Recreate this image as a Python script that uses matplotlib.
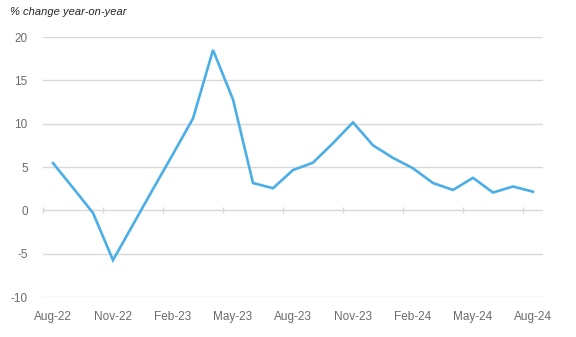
import matplotlib
matplotlib.use("Agg")
import matplotlib.pyplot as plt
import numpy as np

months = ["Aug-22", "Sep-22", "Oct-22", "Nov-22", "Dec-22", "Jan-23", "Feb-23",
          "Mar-23", "Apr-23", "May-23", "Jun-23", "Jul-23", "Aug-23", "Sep-23",
          "Oct-23", "Nov-23", "Dec-23", "Jan-24", "Feb-24", "Mar-24", "Apr-24",
          "May-24", "Jun-24", "Jul-24", "Aug-24"]
values = [5.45, 2.6, -0.3, -5.75, -1.65, 2.45, 6.5,
          10.6, 18.5, 12.8, 3.15, 2.55, 4.65, 5.5,
          7.75, 10.15, 7.5, 6.05, 4.85, 3.15, 2.35,
          3.75, 2.05, 2.75, 2.15]
yticks = [-10, -5, 0, 5, 10, 15, 20]

plt.rcParams['font.family'] = ['Liberation Sans', 'DejaVu Sans']
grey = "#6b6b6b"
gridc = "#d9d9d9"

fig = plt.figure(figsize=(5.76, 3.37), dpi=100)
ax = fig.add_axes([43/576, 1-297/337, 500/576, 260/337])

x = np.arange(len(months))
ax.plot(x, values, color="#4baee6", lw=1.9, solid_joinstyle="miter", zorder=3)

ax.set_xlim(-0.5, len(months)-0.5)
ax.set_ylim(-10, 20)
ax.set_yticks(yticks)
ax.set_yticklabels([str(v) for v in yticks])
ax.yaxis.grid(True, color=gridc, lw=1)
ax.set_axisbelow(True)
for s in ax.spines.values():
    s.set_visible(False)
ax.tick_params(axis="y", length=0, pad=11, labelsize=8.5, labelcolor=grey)

ax.set_xticks(x[::3])
ax.set_xticklabels(months[::3])
ax.tick_params(axis="x", length=0, pad=10, labelsize=8.5, labelcolor=grey)

# category boundary ticks on the zero line
zero = ax.secondary_xaxis(1/3)
zero.set_xticks(np.arange(-0.5, len(months), 3))
zero.set_xticklabels([])
zero.tick_params(axis="x", direction="inout", length=5, color=gridc, width=1)
zero.spines["bottom"].set_visible(False)
zero.spines["top"].set_visible(False)

fig.text(10/576, 1-12/337, "% change year-on-year", fontsize=8, style="italic",
         color="#262626", va="center", ha="left")

fig.savefig("out.png", dpi=100)
